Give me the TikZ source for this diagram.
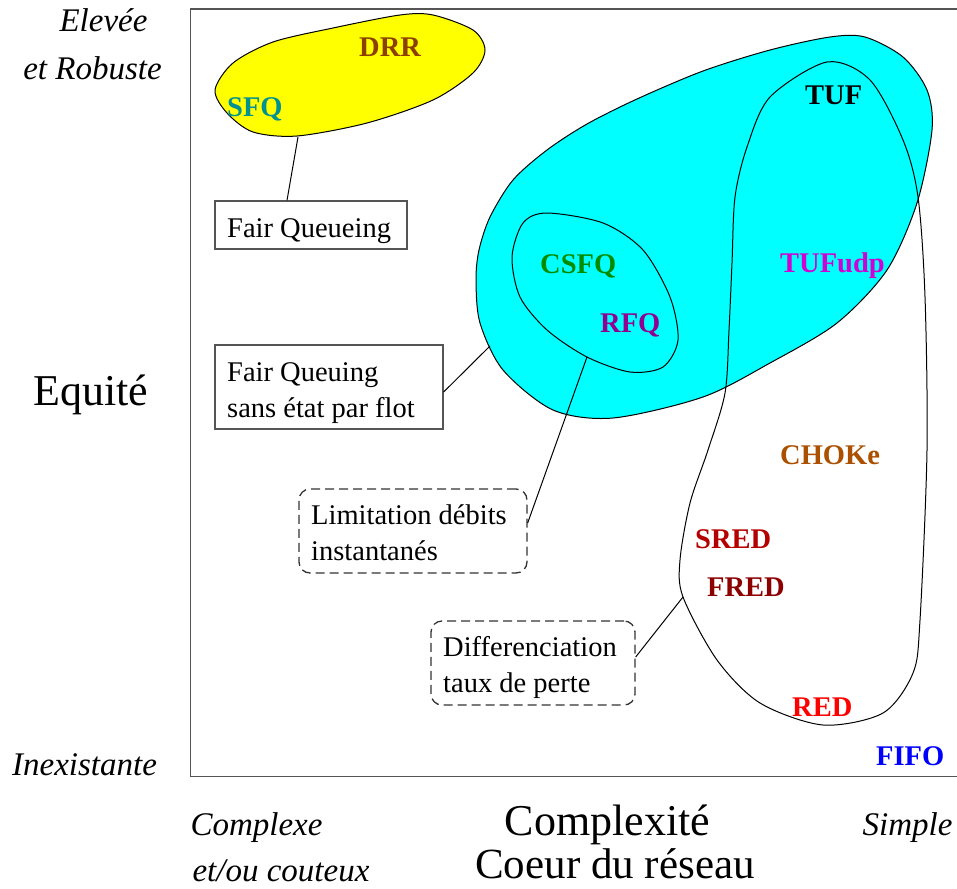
\documentclass[tikz,border=0pt]{standalone}
\usepackage{fontspec}
\setmainfont{Liberation Serif}
\definecolor{boxgray}{RGB}{85,85,85}
\definecolor{dashgray}{RGB}{50,50,50}
\definecolor{cDRR}{RGB}{140,64,0}
\definecolor{cSFQ}{RGB}{0,145,145}
\definecolor{cCSFQ}{RGB}{0,140,0}
\definecolor{cRFQ}{RGB}{145,0,145}
\definecolor{cTUFudp}{RGB}{210,0,210}
\definecolor{cCHOKe}{RGB}{170,80,0}
\definecolor{cSRED}{RGB}{180,0,0}
\definecolor{cFRED}{RGB}{140,0,0}
\definecolor{cRED}{RGB}{255,0,0}
\definecolor{cFIFO}{RGB}{0,0,255}
\definecolor{cyanfill}{RGB}{0,255,255}
\definecolor{yellowfill}{RGB}{255,255,0}
\begin{document}
\begin{tikzpicture}[x=1pt,y=-1pt,
  lbl/.style={inner sep=0pt, anchor=base west, font=\fontsize{28.5}{34}\selectfont\bfseries},
  txt/.style={inner sep=0pt, anchor=base west, font=\fontsize{28.5}{34}\selectfont},
  itl/.style={inner sep=0pt, anchor=base, font=\fontsize{33}{40}\selectfont\itshape},
  big/.style={inner sep=0pt, anchor=base, font=\fontsize{44}{50}\selectfont},
  solidbox/.style={draw=boxgray, line width=1.3pt, inner sep=0pt},
  dashbox/.style={draw=dashgray, line width=1.3pt, dash pattern=on 9pt off 5pt, rounded corners=11pt, inner sep=0pt},
  blob/.style={draw=black, line width=1pt},
  link/.style={draw=black, line width=1pt}]
\useasboundingbox (0,0) rectangle (957,888);

% frame
\draw[draw=boxgray, line width=1.5pt] (190.5,9) rectangle (990,776.5);

% blobs
\draw[blob, fill=yellowfill] plot[smooth cycle] coordinates {(215,90) (233,63) (273,42) (333,28) (400,15) (433,15) (473,30) (485,50) (473,73) (433,100) (367,123) (297,136) (253,132) (227,113)};
\draw[blob, fill=cyanfill] plot[smooth cycle] coordinates {(480,323) (476,280) (479,250) (490,217) (513,180) (547,150) (587,124) (637,99) (703,71) (770,50) (830,37) (865,37) (903,57) (927,90) (932,130) (917,203) (887,270) (837,323) (770,363) (703,397) (613,418) (553,410) (503,370)};
\draw[blob] plot[smooth cycle] coordinates {(512,257) (523,223) (547,213) (603,223) (643,250) (670,297) (678,340) (663,367) (630,372) (587,357) (547,330) (520,297)};
\draw[blob] plot[smooth cycle] coordinates {(827,62) (870,80) (903,140) (918,197) (925,297) (927,450) (920,620) (913,673) (883,713) (823,725) (760,703) (717,660) (683,597) (680,560) (690,503) (708,450) (725,393) (729,330) (732,263) (735,197) (747,147) (770,97)};

% connector anchors on the blobs
\coordinate (yb) at (298,137);
\coordinate (cb) at (490,346);
\coordinate (cs) at (587,357);
\coordinate (tb) at (683,597);

% boxes
\node[solidbox, minimum width=192pt, minimum height=48pt] (fq) at (311,225) {};
\node[solidbox, minimum width=228pt, minimum height=84pt] (fqs) at (329,387) {};
\node[dashbox, minimum width=228pt, minimum height=84pt] (lim) at (413,531) {};
\node[dashbox, minimum width=204pt, minimum height=84pt] (dif) at (533,663) {};

% connectors
\draw[link] (yb) -- ([xshift=-24pt]fq.north);
\draw[link] (cb) -- ([yshift=-5pt]fqs.east);
\draw[link] (cs) -- ([yshift=8pt]lim.east);
\draw[link] (tb) -- ([yshift=6pt]dif.east);

% box texts
\node[txt] (t1) at (227,237) {Fair Queueing};
\node[txt] (t2) at (227,381) {Fair Queuing};
\node[txt] (t3) at (227,417) {sans état par flot};
\node[txt] (t4) at (311,524) {Limitation débits};
\node[txt] (t5) at (311,560) {instantanés};
\node[txt] (t6) at (443,656) {Differenciation};
\node[txt] (t7) at (443,692) {taux de perte};

% algorithm labels
\node[lbl, text=cDRR] (drr) at (359,57) {DRR};
\node[lbl, text=cSFQ] (sfq) at (227,117) {SFQ};
\node[lbl, text=black] (tuf) at (805,105) {TUF};
\node[lbl, text=cCSFQ] (csfq) at (540,273) {CSFQ};
\node[lbl, text=cRFQ] (rfq) at (600,332) {RFQ};
\node[lbl, text=cTUFudp] (tufudp) at (780,272) {TUFudp};
\node[lbl, text=cCHOKe] (choke) at (780,464) {CHOKe};
\node[lbl, text=cSRED] (sred) at (695,548) {SRED};
\node[lbl, text=cFRED] (fred) at (707,596) {FRED};
\node[lbl, text=cRED] (red) at (792,716) {RED};
\node[lbl, text=cFIFO] (fifo) at (876,765) {FIFO};

% axis texts
\node[itl] (a1) at (103.5,32) {Elevée};
\node[itl] (a2) at (92.5,80) {et Robuste};
\node[big] (a3) at (91,405) {Equité};
\node[itl] (a4) at (84.5,775) {Inexistante};
\node[itl] (a5) at (256.5,835) {Complexe};
\node[itl] (a6) at (281,881) {et/ou couteux};
\node[big] (a7) at (607.5,835) {Complexité};
\node[big, font=\fontsize{43}{50}\selectfont] (a8) at (615,878) {Coeur du réseau};
\node[itl] (a9) at (907.5,835) {Simple};
\end{tikzpicture}
\end{document}
